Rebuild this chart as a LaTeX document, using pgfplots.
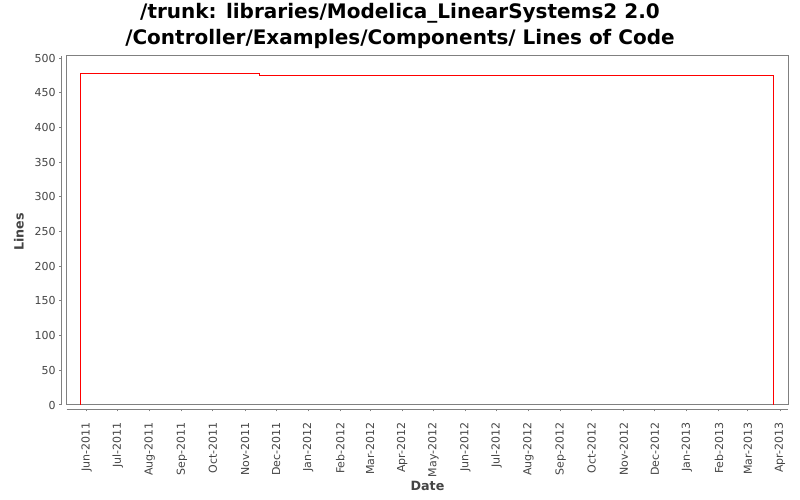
\documentclass[border=0pt]{standalone}
\usepackage{fontspec}
\setmainfont{DejaVu Sans}
\usepackage{pgfplots}
\pgfplotsset{compat=1.18}
\definecolor{axgray}{HTML}{808080}
\definecolor{labgray}{HTML}{444444}
\begin{document}
\begin{tikzpicture}
\useasboundingbox (0,0) rectangle (800bp,500bp);
% title
\node[anchor=base, font=\bfseries\fontsize{20bp}{24bp}\selectfont] at (400bp,481bp) {/trunk: libraries/Modelica\_LinearSystems2 2.0};
\node[anchor=base, font=\bfseries\fontsize{20bp}{24bp}\selectfont] at (400bp,455.7bp) {/Controller/Examples/Components/ Lines of Code};
% axis labels
\node[font=\bfseries\fontsize{12.7bp}{15bp}\selectfont, text=labgray] at (427.5bp,14.5bp) {Date};
\node[rotate=90, font=\bfseries\fontsize{12.7bp}{15bp}\selectfont, text=labgray] at (19bp,268bp) {Lines};
% main plot area
\begin{axis}[
  at={(66.7bp,95bp)}, anchor=south west,
  scale only axis, width=721.6bp, height=349bp,
  xmin=-19.3, xmax=678, ymin=0, ymax=503.3,
  axis line style={axgray, line width=1bp},
  xtick=\empty, ytick=\empty,
  clip=false,
]
\addplot[red, line width=1bp] coordinates {
  (-6,0) (-6,478) (167,478) (167,475) (664,475) (664,0)
};
\end{axis}
% y spine
\begin{axis}[
  at={(61.7bp,95bp)}, anchor=south west,
  scale only axis, width=5bp, height=349bp,
  xmin=0, xmax=1, ymin=0, ymax=503.3,
  axis y line=left, hide x axis,
  y axis line style={-, axgray, line width=1bp},
  ytick={0,50,...,500},
  tick align=outside, major tick length=2.5bp,
  tick style={axgray, line width=1bp},
  yticklabel style={font=\fontsize{11bp}{13bp}\selectfont, text=labgray},
  /pgf/number format/assume math mode=true,
]
\end{axis}
% x spine
\begin{axis}[
  at={(66.7bp,91bp)}, anchor=south west,
  scale only axis, width=721.6bp, height=5bp,
  xmin=-19.3, xmax=678, ymin=0, ymax=1,
  axis x line=bottom, hide y axis,
  x axis line style={-, axgray, line width=1bp},
  tick align=outside, major tick length=2.5bp,
  tick style={axgray, line width=1bp},
  xtick={0,30,61,92,122,153,183,214,245,274,305,335,366,396,427,458,488,519,549,580,611,639,670},
  xticklabels={Jun-2011,Jul-2011,Aug-2011,Sep-2011,Oct-2011,Nov-2011,Dec-2011,Jan-2012,Feb-2012,Mar-2012,Apr-2012,May-2012,Jun-2012,Jul-2012,Aug-2012,Sep-2012,Oct-2012,Nov-2012,Dec-2012,Jan-2013,Feb-2013,Mar-2013,Apr-2013},
  xticklabel shift=7.5bp,
  xticklabel style={rotate=90, anchor=east, font=\fontsize{11bp}{13bp}\selectfont, text=labgray},
]
\end{axis}
\end{tikzpicture}
\end{document}
